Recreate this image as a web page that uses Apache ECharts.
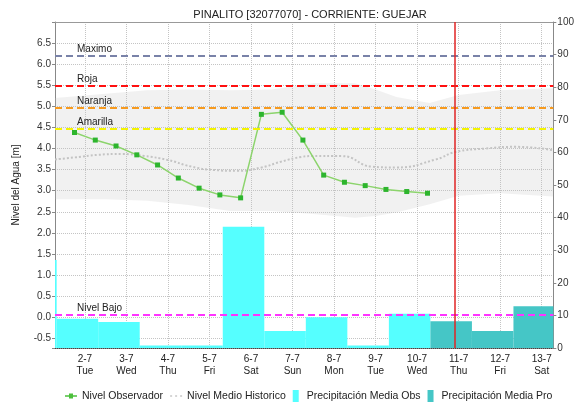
<!DOCTYPE html>
<html>
<head>
<meta charset="utf-8">
<script src="https://cdn.jsdelivr.net/npm/echarts@6/dist/echarts.min.js"></script>
<style>
  html, body { margin: 0; padding: 0; background: #fff; }
  #chart { width: 577px; height: 404px; }
</style>
</head>
<body>
<div id="chart"></div>
<script>
// x is in days, 0 = 2-7 00:00
const dayLabels = ['2-7\nTue', '3-7\nWed', '4-7\nThu', '5-7\nFri', '6-7\nSat', '7-7\nSun',
  '8-7\nMon', '9-7\nTue', '10-7\nWed', '11-7\nThu', '12-7\nFri', '13-7\nSat']

// observer readings (06:00 / 18:00)
const obsTimes = [-0.25, 0.25, 0.75, 1.25, 1.75, 2.25, 2.75, 3.25, 3.75,
  4.25, 4.75, 5.25, 5.75, 6.25, 6.75, 7.25, 7.75, 8.25]
const obsLevel = [4.38, 4.20, 4.06, 3.85, 3.61, 3.30, 3.06, 2.90, 2.83,
  4.81, 4.86, 4.20, 3.37, 3.20, 3.12, 3.03, 2.98, 2.94]

// historical mean level
const histDays = [-0.72, -0.24, 0.31, 0.89, 1.44, 1.99, 2.57, 3.12, 3.67, 4.25, 4.73,
  5.21, 5.47, 6.19, 6.91, 7.49, 8.45, 8.93, 9.65, 10.37, 11.28]
const histMean = [3.74, 3.79, 3.85, 3.87, 3.82, 3.73, 3.57, 3.49, 3.47, 3.55, 3.69,
  3.80, 3.82, 3.82, 3.57, 3.55, 3.74, 3.92, 4.00, 4.04, 3.96]

// historical band (min / max)
const bandDays = [-0.72, 0.5, 1.5, 2.5, 3.5, 4.5, 5.5, 6.5, 7.0, 7.5, 8.3, 9.0, 10.0, 11.28]
const bandLow = [2.80, 2.80, 2.76, 2.66, 2.52, 2.52, 2.45, 2.36, 2.40, 2.48, 2.68, 2.88, 2.94, 2.86]
const bandHigh = [5.20, 5.30, 5.38, 5.40, 5.38, 5.40, 5.55, 5.55, 5.40, 5.22, 5.08, 5.27, 5.38, 5.43]

// daily precipitation [mm], each bar lasts one day from its start
const obsRainStart = [-1.68, -0.68, 0.32, 1.32, 2.32, 3.32, 4.32, 5.32, 6.32, 7.32]
const obsRain = [27, 9, 8, 0.8, 0.8, 37.2, 5.2, 9.4, 0.8, 10.5]
const proRainStart = [8.32, 9.32, 10.32]
const proRain = [8.2, 5.2, 12.8]

// alert levels [m]
const alertNames = ['Maximo', 'Roja', 'Naranja', 'Amarilla', 'Nivel Bajo']
const alertLevels = [6.2, 5.5, 4.97, 4.47, 0.07]
const alertColors = ['#7982a8', '#ff1010', '#f79a1e', '#f4f400', '#ff33ff']

const nowDay = 8.9

const font = 'Liberation Sans, Arial, sans-serif'

const chart = echarts.init(document.getElementById('chart'))

function clipTo(params, shape) {
  return echarts.graphic.clipRectByRect(shape, {
    x: params.coordSys.x, y: params.coordSys.y,
    width: params.coordSys.width, height: params.coordSys.height,
  })
}

function rainItem(color) {
  return function (params, api) {
    const p0 = api.coord([api.value(0), api.value(2)])
    const p1 = api.coord([api.value(1), 0])
    const rect = clipTo(params, { x: p0[0], y: p0[1], width: p1[0] - p0[0], height: p1[1] - p0[1] })
    return rect && { type: 'rect', shape: rect, style: { fill: color } }
  }
}

// whole band drawn as one polygon on the first item
function bandItem(params, api) {
  if (params.dataIndex !== 0) return
  const top = bandDays.map((d, i) => api.coord([d, bandHigh[i]]))
  const bottom = bandDays.map((d, i) => api.coord([d, bandLow[i]])).reverse()
  return {
    type: 'polygon',
    shape: { points: top.concat(bottom) },
    style: { fill: 'rgba(190,190,190,0.22)' },
  }
}

const isInt = (v) => Math.abs(v - Math.round(v)) < 1e-6

const lineIcon = 'path://M0,4 L12,4 L12,5.4 L0,5.4 Z M4,2.2 L8,2.2 L8,7.2 L4,7.2 Z'
const dashIcon = 'path://M0,4 L2,4 L2,5.5 L0,5.5 Z M5,4 L7,4 L7,5.5 L5,5.5 Z M10,4 L12,4 L12,5.5 L10,5.5 Z'
const boxIcon = 'path://M0,0 L6,0 L6,12 L0,12 Z'

const option = {
  animation: false,
  textStyle: { fontFamily: font },
  title: {
    text: 'PINALITO [32077070] - CORRIENTE: GUEJAR',
    left: 305,
    textAlign: 'center',
    top: 4,
    textStyle: { fontSize: 11, fontWeight: 'normal', color: '#222', fontFamily: font },
  },
  legend: {
    top: 385,
    left: 60,
    itemWidth: 12,
    itemHeight: 12,
    itemGap: 7,
    textStyle: { fontSize: 10.5, color: '#222', fontFamily: font },
    data: [
      { name: 'Nivel Observador', icon: lineIcon, itemStyle: { color: '#4cc03c' } },
      { name: 'Nivel Medio Historico', icon: dashIcon, itemStyle: { color: '#c8c8c8' } },
      { name: 'Precipitación Media Obs', icon: boxIcon },
      { name: 'Precipitación Media Pro', icon: boxIcon },
    ],
  },
  grid: { left: 55, right: 22, top: 22, bottom: 56 },
  xAxis: [
    {
      type: 'value',
      min: -0.72,
      max: 11.28,
      splitNumber: 12,
      axisLine: { onZero: false, lineStyle: { color: '#444', type: 'dotted', width: 1 } },
      axisTick: { show: false },
      axisLabel: {
        color: '#222',
        fontSize: 10,
        lineHeight: 12,
        margin: 5,
        formatter: (v) => (isInt(v) && dayLabels[Math.round(v)]) || '',
      },
      splitLine: { show: true, lineStyle: { color: '#c4c4c4', type: 'dotted' } },
    },
    {
      type: 'value',
      position: 'top',
      min: -0.72,
      max: 11.28,
      axisLine: { show: true, onZero: false, lineStyle: { color: '#999' } },
      axisTick: { show: false },
      axisLabel: { show: false },
      splitLine: { show: false },
    },
  ],
  yAxis: [
    {
      type: 'value',
      min: -0.73,
      max: 7.0,
      splitNumber: 15,
      name: 'Nivel del Agua [m]',
      nameLocation: 'middle',
      nameGap: 34,
      nameTextStyle: { fontSize: 10, color: '#222', fontFamily: font },
      axisLine: { show: true, onZero: false, lineStyle: { color: '#888' } },
      axisTick: { show: true, length: 3, lineStyle: { color: '#888' } },
      axisLabel: {
        color: '#333',
        fontSize: 10,
        margin: 4,
        formatter: (v) => (v >= -0.51 && v <= 6.51 && isInt(v * 2)) ? v.toFixed(1) : '',
      },
      splitLine: { show: true, lineStyle: { color: '#c4c4c4', type: 'dotted' } },
    },
    {
      type: 'value',
      min: 0,
      max: 100,
      interval: 10,
      position: 'right',
      axisLine: { show: true, onZero: false, lineStyle: { color: '#888' } },
      axisTick: { show: true, length: 3, lineStyle: { color: '#888' } },
      axisLabel: { color: '#333', fontSize: 10, margin: 4 },
      splitLine: { show: false },
    },
  ],
  series: [
    {
      type: 'custom',
      silent: true,
      renderItem: bandItem,
      encode: { x: 0, y: [1, 2] },
      data: bandDays.map((d, i) => [d, bandLow[i], bandHigh[i]]),
    },
    {
      name: 'Nivel Medio Historico',
      type: 'line',
      smooth: true,
      symbol: 'none',
      color: '#c4c4c4',
      lineStyle: { color: '#c4c4c4', width: 2, type: 'dotted' },
      data: histDays.map((d, i) => [d, histMean[i]]),
    },
    {
      name: 'Precipitación Media Obs',
      type: 'custom',
      yAxisIndex: 1,
      color: '#55ffff',
      renderItem: rainItem('#55ffff'),
      encode: { x: [0, 1], y: 2 },
      data: obsRainStart.map((s, i) => [s, s + 1, obsRain[i]]),
    },
    {
      name: 'Precipitación Media Pro',
      type: 'custom',
      yAxisIndex: 1,
      color: '#45c6c6',
      renderItem: rainItem('#45c6c6'),
      encode: { x: [0, 1], y: 2 },
      data: proRainStart.map((s, i) => [s, s + 1, proRain[i]]),
    },
    {
      name: 'Nivel Observador',
      type: 'line',
      color: '#2db52d',
      symbol: 'rect',
      symbolSize: 5,
      itemStyle: { color: '#2db52d' },
      lineStyle: { color: '#8cd46c', width: 1.5 },
      data: obsTimes.map((t, i) => [t, obsLevel[i]]),
      markLine: {
        silent: true,
        symbol: ['none', 'none'],
        data: alertLevels.map((v, i) => ({
          yAxis: v,
          lineStyle: { color: alertColors[i], type: [7, 4], width: 2 },
          label: {
            show: true,
            formatter: alertNames[i],
            position: 'insideStartTop',
            distance: [22, 1],
            color: '#222',
            fontSize: 10,
            fontFamily: font,
          },
        })).concat([{
          xAxis: nowDay,
          lineStyle: { color: '#e02424', type: 'solid', width: 1.5 },
          label: { show: false },
        }]),
      },
    },
  ],
}

chart.setOption(option)
</script>
</body>
</html>
